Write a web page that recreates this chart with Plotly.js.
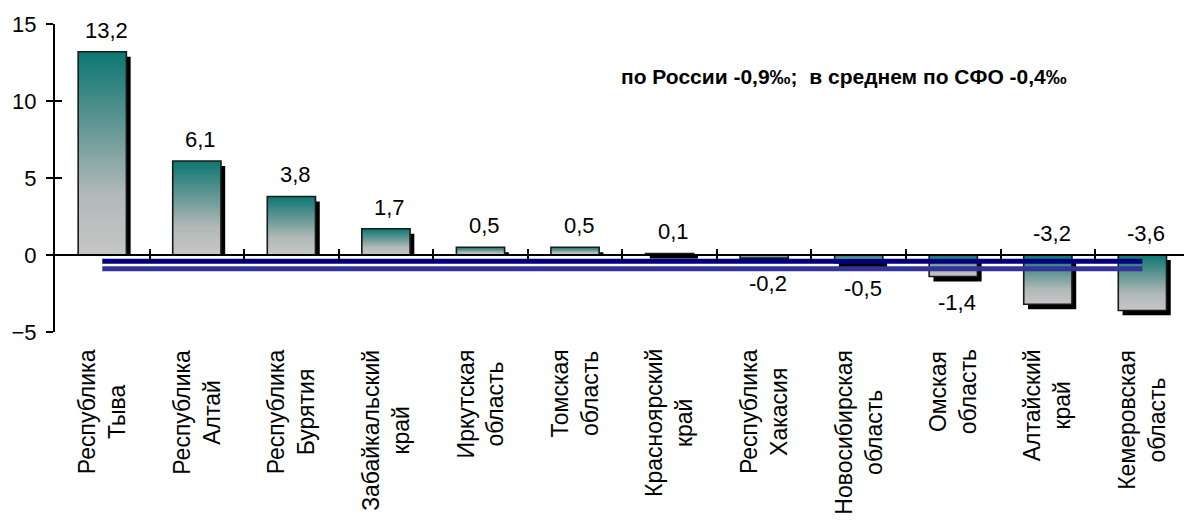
<!DOCTYPE html>
<html>
<head>
<meta charset="utf-8">
<script src="https://cdn.plot.ly/plotly-3.0.1.min.js"></script>
<style>html,body{margin:0;padding:0;background:#fff;}#chart{width:1184px;height:520px;}</style>
</head>
<body>
<div id="chart"></div>
<script>
const categories = ['Республика<br>Тыва', 'Республика<br>Алтай', 'Республика<br>Бурятия', 'Забайкальский<br>край',
  'Иркутская<br>область', 'Томская<br>область', 'Красноярский<br>край', 'Республика<br>Хакасия',
  'Новосибирская<br>область', 'Омская<br>область', 'Алтайский<br>край', 'Кемеровская<br>область'];
const values = [13.2, 6.1, 3.8, 1.7, 0.5, 0.5, 0.1, -0.2, -0.5, -1.4, -3.2, -3.6];
const russiaAvg = -0.9;
const sfoAvg = -0.4;
const yTickVals = [-5, 0, 5, 10, 15];
const noteText = 'по России -0,9‰;  в среднем по СФО -0,4‰';

const FONT = 'Liberation Sans, Arial, sans-serif';
const BW = 0.51;          // bar width in category units
const SHX = 0.045;        // shadow x offset (category units)
const SHY = 0.32;         // shadow y offset (value units)
const idx = categories.map((_, i) => i);
const fmt = v => v.toFixed(1).replace('.', ',');

const traces = [];
// shadows
traces.push({
  type: 'bar', x: idx.map(i => i + SHX), y: values.map(v => v >= 0 ? v - SHY : v),
  base: values.map(v => v >= 0 ? 0 : -SHY), width: BW,
  marker: {color: '#000000', line: {width: 0}}, hoverinfo: 'skip', showlegend: false
});
// base bars (solid, under gradient)
traces.push({
  type: 'bar', x: idx, y: values, width: BW,
  marker: {color: '#8fa9a7', line: {width: 0}}, hoverinfo: 'skip', showlegend: false
});
// gradient fill for every bar
values.forEach((v, i) => {
  const lo = Math.min(0, v), hi = Math.max(0, v);
  traces.push({
    type: 'scatter', mode: 'lines',
    x: [i - BW / 2, i + BW / 2, i + BW / 2, i - BW / 2, i - BW / 2],
    y: [0, 0, v, v, 0],
    fill: 'toself',
    fillgradient: {type: 'vertical', start: lo, stop: hi,
      colorscale: [[0, '#c6c6c6'], [0.3, '#b1b9b8'], [0.65, '#5f9592'], [1, '#0c7772']]},
    line: {color: '#1a1a1a', width: 1.6},
    hoverinfo: 'skip', showlegend: false
  });
});
// average lines (on overlay axes)
traces.push({type: 'scatter', mode: 'lines', x: [0, categories.length - 1], y: [sfoAvg, sfoAvg],
  line: {color: '#000080', width: 5}, xaxis: 'x2', yaxis: 'y2', hoverinfo: 'skip', showlegend: false});
traces.push({type: 'scatter', mode: 'lines', x: [0, categories.length - 1], y: [russiaAvg, russiaAvg],
  line: {color: '#333399', width: 5}, xaxis: 'x2', yaxis: 'y2', hoverinfo: 'skip', showlegend: false});

const annotations = [];
values.forEach((v, i) => {
  let y, yanchor, yshift;
  if (v >= 0) { y = v; yanchor = 'bottom'; yshift = 7; }
  else if (v > -3) { y = v; yanchor = 'top'; yshift = -11; }
  else { y = 0; yanchor = 'bottom'; yshift = 7; }
  annotations.push({x: i, y: y, xref: 'x', yref: 'y', text: fmt(v), showarrow: false,
    xanchor: 'center', yanchor: yanchor, yshift: yshift, xshift: 4,
    font: {family: FONT, size: 22, color: '#000'}});
});
categories.forEach((c, i) => {
  annotations.push({x: i, y: -0.05, xref: 'x', yref: 'paper', text: c, showarrow: false,
    textangle: -90, align: 'center', xanchor: 'center', yanchor: 'top',
    font: {family: FONT, size: 23, color: '#000'}});
});
annotations.push({x: 0.6985, y: 0.828, xref: 'paper', yref: 'paper', text: '<b>' + noteText + '</b>',
  showarrow: false, xanchor: 'center', yanchor: 'middle',
  font: {family: FONT, size: 21, color: '#000'}});

const boundaries = idx.slice(0, -1).map(i => i + 0.5);
const xr = [-0.5, 11.44];
const yr = [-5, 15];

const layout = {
  width: 1184, height: 520,
  margin: {l: 54.5, r: 0, t: 24, b: 187.7, pad: 0},
  paper_bgcolor: '#fff', plot_bgcolor: '#fff',
  barmode: 'overlay', showlegend: false,
  font: {family: FONT, size: 21, color: '#000'},
  xaxis: {range: xr, anchor: 'free', position: 0.25, showline: true, linecolor: '#000', linewidth: 2,
    tickmode: 'array', tickvals: boundaries, ticks: 'outside', ticklen: 6, tickwidth: 2, tickcolor: '#000',
    showticklabels: false, showgrid: false, zeroline: false, fixedrange: true},
  xaxis2: {range: xr, overlaying: 'x', anchor: 'free', position: 0.25, showline: false,
    tickmode: 'array', tickvals: boundaries, ticks: 'inside', ticklen: 6, tickwidth: 2, tickcolor: '#000',
    showticklabels: false, showgrid: false, zeroline: false, fixedrange: true},
  yaxis: {range: yr, showline: true, linecolor: '#000', linewidth: 2,
    tickmode: 'array', tickvals: yTickVals, ticks: 'outside', ticklen: 7, tickwidth: 2, tickcolor: '#000',
    ticklabelstandoff: 5, tickfont: {family: FONT, size: 22, color: '#000'},
    showgrid: false, zeroline: false, fixedrange: true},
  yaxis2: {range: yr, overlaying: 'y', side: 'left', showline: false,
    tickmode: 'array', tickvals: yTickVals, ticks: 'inside', ticklen: 7, tickwidth: 2, tickcolor: '#000',
    showticklabels: false, showgrid: false, zeroline: false, fixedrange: true},
  annotations: annotations
};

Plotly.newPlot('chart', traces, layout, {displayModeBar: false, staticPlot: true});
</script>
</body>
</html>
